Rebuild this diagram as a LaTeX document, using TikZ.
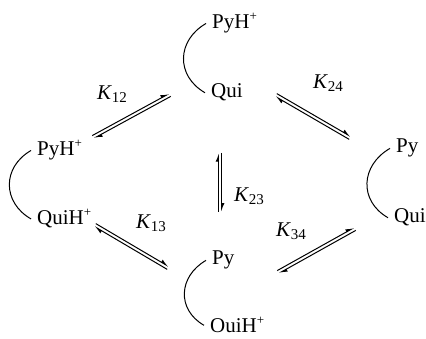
\documentclass[tikz,border=0pt]{standalone}
\usepackage{fontspec}
\setmainfont{Liberation Serif}
\usetikzlibrary{calc,arrows.meta}

\begin{document}
\begin{tikzpicture}[x=1pt, y=1pt,
    grp/.style={anchor=base west, inner xsep=6pt, inner ysep=0pt, font=\fontsize{21}{24}\selectfont},
    klab/.style={inner sep=0pt, font=\fontsize{21}{24}\selectfont},
    ring/.style={line width=1pt, out=210, in=150, looseness=1.25},
    harp/.style={line width=1pt, -{Latex[left, length=7pt, width=6pt]}}]
  % \eqarrow{a}{b}: two harpoons between the coordinates a and b
  \newcommand{\eqarrow}[2]{%
    \draw[harp] ($(#1)!1.6pt!90:(#2)$) -- ($(#2)!1.6pt!-90:(#1)$);
    \draw[harp] ($(#2)!1.6pt!90:(#1)$) -- ($(#1)!1.6pt!-90:(#2)$);}
  \newcommand{\kk}[1]{\textit{K}\raisebox{-0.3ex}{\fontsize{15}{18}\selectfont #1}}
  \newcommand{\plus}{\raisebox{0.85ex}{\fontsize{13}{15}\selectfont +}}
  \useasboundingbox (0,0) rectangle (426,339);
  % ---------------- four forms ----------------
  \node[grp] (pyT)  at (206,310) {PyH\plus};
  \node[grp] (quiT) at (205,241) {Qui};
  \node[grp] (pyL)  at (31,183)  {PyH\plus};
  \node[grp] (quiL) at (31,114)  {QuiH\plus};
  \node[grp] (pyR)  at (390,186) {Py};
  \node[grp] (quiR) at (388,116) {Qui};
  \node[grp] (pyB)  at (206,74)  {Py};
  \node[grp] (quiB) at (204,6)   {OuiH\plus};
  \draw[ring] (pyT.west) to (quiT.west);
  \draw[ring] (pyL.west) to (quiL.west);
  \draw[ring] (pyR.west) to (quiR.west);
  \draw[ring] (pyB.west) to (quiB.west);
  % ---------------- equilibria ----------------
  \coordinate (e12a) at (93,202);  \coordinate (e12b) at (170,244);
  \coordinate (e24a) at (276,244); \coordinate (e24b) at (350,201);
  \coordinate (e23a) at (220,127); \coordinate (e23b) at (220,186);
  \coordinate (e13a) at (95,114);  \coordinate (e13b) at (168,71);
  \coordinate (e34a) at (278,67);  \coordinate (e34b) at (355,110);
  \eqarrow{e12a}{e12b}
  \eqarrow{e24a}{e24b}
  \eqarrow{e23a}{e23b}
  \eqarrow{e13a}{e13b}
  \eqarrow{e34a}{e34b}
  \node[klab] (k12) at (112,245) {\kk{12}};
  \node[klab] (k24) at (328,256) {\kk{24}};
  \node[klab] (k23) at (249,143) {\kk{23}};
  \node[klab] (k13) at (151,116) {\kk{13}};
  \node[klab] (k34) at (291,108) {\kk{34}};
\end{tikzpicture}
\end{document}
